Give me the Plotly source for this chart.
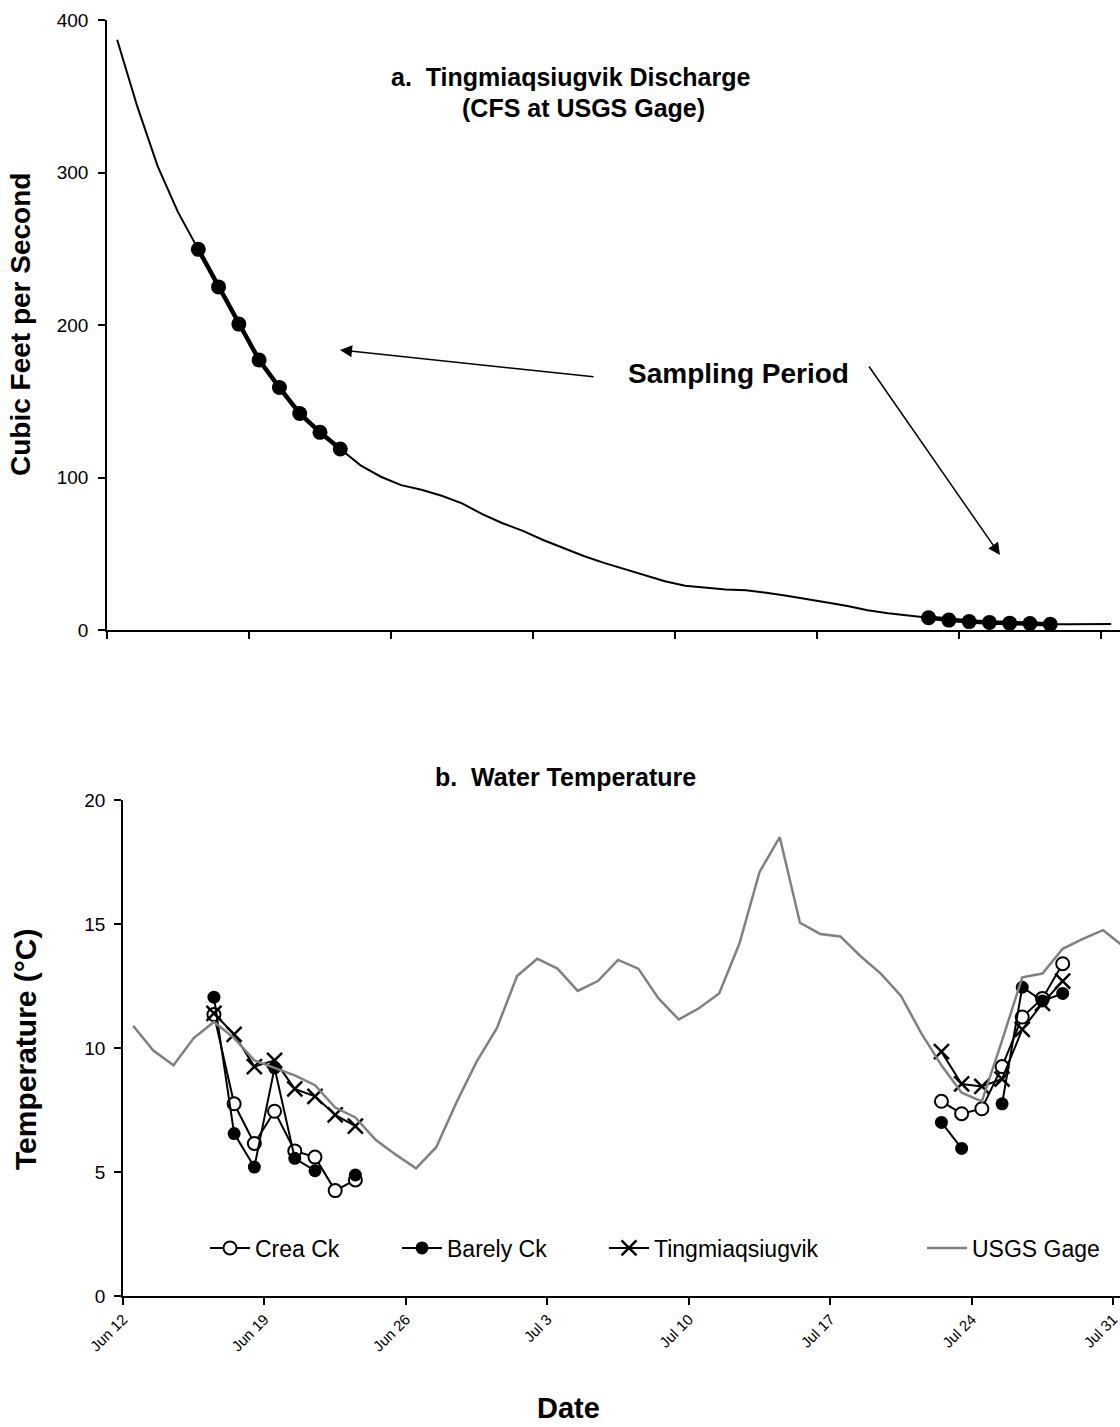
import pandas as pd
import plotly.graph_objects as go

# ---------------- data ----------------
start = "2004-06-12"
days = pd.date_range("2004-06-12 12:00", periods=50, freq="D")  # Jun 12 .. Jul 31

discharge_cfs = [387, 343, 304, 274, 249.6, 225, 200.6, 177, 159, 142,
                 129.6, 118.7, 108, 100.5, 95, 92, 88, 83, 76, 70,
                 65, 59, 53.5, 48.5, 44, 40, 36, 32, 29, 27.5,
                 26.5, 26, 24.5, 22.5, 20, 18, 15.7, 13, 11, 9.5,
                 8, 6.5, 5.5, 5, 4.5, 4.3, 3.8, 3.7, 3.7, 4]

sample_days = list(pd.date_range("2004-06-16 12:00", "2004-06-23 12:00", freq="D")) + \
              list(pd.date_range("2004-07-22 12:00", "2004-07-28 12:00", freq="D"))

usgs_temp = [10.9, 9.9, 9.3, 10.4, 11.05, 10.4, 9.5, 9.2, 8.9, 8.5,
             7.6, 7.2, 6.3, 5.7, 5.15, 6.0, 7.8, 9.45, 10.8, 12.9,
             13.6, 13.2, 12.3, 12.7, 13.55, 13.2, 12.0, 11.15, 11.6, 12.2,
             14.2, 17.1, 18.5, 15.05, 14.6, 14.5, 13.7, 13.0, 12.1, 10.6,
             9.3, 8.2, 7.85, 10.3, 12.85, 13.0, 14.0, 14.4, 14.75, 14.1]

crea_temp = [11.35, 7.75, 6.15, 7.45, 5.85, 5.6, 4.25, 4.68,
             7.85, 7.35, 7.55, 9.25, 11.25, 12.0, 13.4]
barely_temp = [12.05, 6.55, 5.2, 9.2, 5.55, 5.05, None, 4.88,
               7.0, 5.95, None, 7.75, 12.45, 11.9, 12.2]
tingm_temp = [11.4, 10.55, 9.25, 9.5, 8.35, 8.05, 7.3, 6.85,
              9.85, 8.55, 8.45, 8.75, 10.75, 11.8, 12.7]

series_names = ["Crea Ck", "Barely Ck", "Tingmiaqsiugvik", "USGS Gage"]

# ---------------- helpers ----------------
W, H = 1120, 1427
def px(x):
    return x / W
def py(y):
    return 1 - y / H

def on_days(vals):
    s = pd.Series(vals, index=sample_days, dtype="float")
    return s.reindex(days)

disc = pd.Series(discharge_cfs, index=days)
sampled_disc = disc.where(disc.index.isin(sample_days))

FONT = "Liberation Sans, Arial, sans-serif"

fig = go.Figure()

# ---------- panel a ----------
fig.add_trace(go.Scatter(x=days, y=discharge_cfs, mode="lines",
                         line=dict(color="black", width=2),
                         xaxis="x", yaxis="y", showlegend=False, hoverinfo="skip"))
fig.add_trace(go.Scatter(x=days, y=sampled_disc.values, mode="lines+markers",
                         line=dict(color="black", width=4.5),
                         marker=dict(color="black", size=15),
                         connectgaps=False,
                         xaxis="x", yaxis="y", showlegend=False))

# ---------- panel b ----------
fig.add_trace(go.Scatter(x=days, y=on_days(crea_temp).values, name=series_names[0],
                         mode="lines+markers", connectgaps=False, legend="legend",
                         line=dict(color="black", width=2),
                         marker=dict(symbol="circle", size=13, color="white",
                                     line=dict(color="black", width=2)),
                         xaxis="x2", yaxis="y2"))
fig.add_trace(go.Scatter(x=days, y=on_days(barely_temp).values, name=series_names[1],
                         mode="lines+markers", connectgaps=False, legend="legend2",
                         line=dict(color="black", width=2),
                         marker=dict(symbol="circle", size=13, color="black"),
                         xaxis="x2", yaxis="y2"))
fig.add_trace(go.Scatter(x=days, y=on_days(tingm_temp).values, name=series_names[2],
                         mode="lines+markers", connectgaps=False, legend="legend3",
                         line=dict(color="black", width=2),
                         marker=dict(symbol="x-thin", size=15, color="black",
                                     line=dict(color="black", width=2.5)),
                         xaxis="x2", yaxis="y2"))
fig.add_trace(go.Scatter(x=days, y=usgs_temp, name=series_names[3], mode="lines",
                         legend="legend4",
                         line=dict(color="#808080", width=2.5),
                         xaxis="x2", yaxis="y2"))

day_ms = 86400000
axis_common = dict(showgrid=False, zeroline=False, showline=True, linecolor="black",
                   linewidth=1.5, ticks="outside", ticklen=7, tickwidth=1.5,
                   tickcolor="black", automargin=False)

top_end = pd.Timestamp(start) + pd.Timedelta(days=(W - 107) / (142 / 7))
bot_end = pd.Timestamp(start) + pd.Timedelta(days=(W - 123) / (990.2 / 49))

def leg(x):
    return dict(orientation="h", x=px(x), y=py(1248), xanchor="left", yanchor="middle",
                font=dict(family=FONT, size=23, color="black"),
                bgcolor="rgba(0,0,0,0)", itemwidth=40)

fig.update_layout(
    width=W, height=H, margin=dict(l=0, r=0, t=0, b=0),
    paper_bgcolor="white", plot_bgcolor="white",
    font=dict(family=FONT, color="black"),
    xaxis=dict(domain=[px(107), 1], anchor="y", type="date",
               range=[pd.Timestamp(start), top_end],
               tick0=start, dtick=7 * day_ms, showticklabels=False, **axis_common),
    yaxis=dict(domain=[py(630), py(20)], anchor="x", range=[0, 400],
               dtick=100, tickfont=dict(family=FONT, size=19, color="black"),
               ticklabelstandoff=6, **axis_common),
    xaxis2=dict(domain=[px(123), 1], anchor="y2", type="date",
                range=[pd.Timestamp(start), bot_end],
                tick0=start, dtick=7 * day_ms, tickformat="%b %-d", tickangle=-45,
                ticklabeloverflow="allow",
                tickfont=dict(family=FONT, size=15, color="black"), **axis_common),
    yaxis2=dict(domain=[py(1296), py(800)], anchor="x2", range=[0, 20],
                dtick=5, tickfont=dict(family=FONT, size=19, color="black"),
                ticklabelstandoff=5, **axis_common),
    legend=leg(205), legend2=leg(397), legend3=leg(604), legend4=leg(922),
)

bold = lambda s, size: dict(text=f"<b>{s}</b>", font=dict(family=FONT, size=size, color="black"))

annos = [
    dict(x=px(570), y=py(77), **bold("a.  Tingmiaqsiugvik Discharge", 25)),
    dict(x=px(583), y=py(108), **bold("(CFS at USGS Gage)", 25)),
    dict(x=px(738), y=py(373), **bold("Sampling Period", 28)),
    dict(x=px(21), y=py(325), textangle=-90, **bold("Cubic Feet per Second", 28)),
    dict(x=px(565), y=py(777), **bold("b.  Water Temperature", 25)),
    dict(x=px(25), y=py(1050), textangle=-90, **bold("Temperature (°C)", 30)),
    dict(x=px(568), y=py(1408), **bold("Date", 29)),
]
for a in annos:
    fig.add_annotation(xref="paper", yref="paper", showarrow=False,
                       xanchor="center", yanchor="middle", **a)

# arrows
fig.add_annotation(xref="paper", yref="paper", x=px(340), y=py(350), ax=255, ay=27,
                   text="", showarrow=True, arrowhead=2, arrowsize=1.6, arrowwidth=1.5,
                   arrowcolor="black")
fig.add_annotation(xref="paper", yref="paper", x=px(1000), y=py(555), ax=-132, ay=-190,
                   text="", showarrow=True, arrowhead=2, arrowsize=1.6, arrowwidth=1.5,
                   arrowcolor="black")

fig.write_html("out.html")
